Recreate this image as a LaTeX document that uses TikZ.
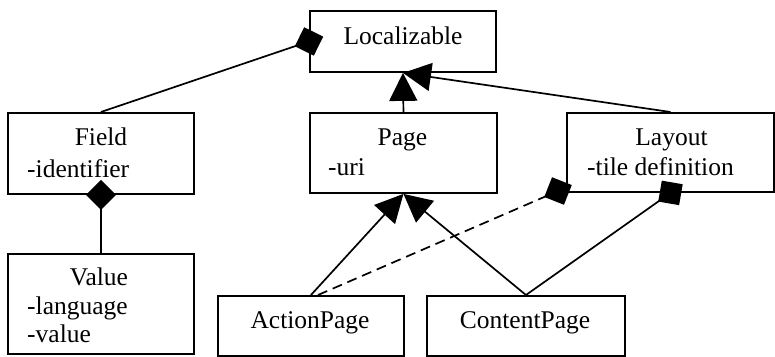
\documentclass[tikz,border=0pt]{standalone}
\usepackage{fontspec}
\setmainfont{Liberation Serif}
\usetikzlibrary{arrows.meta}
\begin{document}
\begin{tikzpicture}[x=1pt,y=-1pt,
  box/.style={draw, line width=1.9pt, inner sep=0pt, anchor=north west},
  txt/.style={inner sep=0pt, font=\fontsize{25.5}{30}\selectfont},
  conn/.style={line width=1.7pt},
  gen/.style={conn, -{Triangle[length=28pt,width=28pt]}},
  dia/.style={conn, -{Diamond[length=30pt,width=30pt]}, shorten >=-15pt},
  dep/.style={dia, dash pattern=on 10pt off 6pt}]
\useasboundingbox (0,0) rectangle (775,356);
% boxes
\node[box, minimum width=186pt, minimum height=61pt] (loc) at (309,10) {};
\node[box, minimum width=186pt, minimum height=81pt] (field) at (7,112) {};
\node[box, minimum width=186pt, minimum height=100pt] (value) at (7,253) {};
\node[box, minimum width=187pt, minimum height=80pt] (page) at (309,112) {};
\node[box, minimum width=207pt, minimum height=79pt] (layout) at (566,112) {};
\node[box, minimum width=186pt, minimum height=60pt] (action) at (217,295) {};
\node[box, minimum width=198pt, minimum height=60pt] (content) at (426,295) {};
% texts
\node[txt, anchor=base] (locT) at (403,44) {Localizable};
\node[txt, anchor=base] (fieldT) at (101,145) {Field};
\node[txt, anchor=base west] (fieldA) at (27,177) {-identifier};
\node[txt, anchor=base] (valueT) at (99,285) {Value};
\node[txt, anchor=base west] (valueA) at (27,314) {-language};
\node[txt, anchor=base west] (valueB) at (27,342) {-value};
\node[txt, anchor=base] (pageT) at (402.5,145) {Page};
\node[txt, anchor=base west] (pageA) at (328,175) {-uri};
\node[txt, anchor=base] (layoutT) at (671.5,145) {Layout};
\node[txt, anchor=base west] (layoutA) at (587,175) {-tile definition};
\node[txt, anchor=base] (actionT) at (310,328) {ActionPage};
\node[txt, anchor=base] (contentT) at (525,328) {ContentPage};
% connector end points
\coordinate (adash) at (318,295);
\coordinate (ldash) at (558,191);
% connectors
\draw[dia] (field.north) -- (loc.west);
\draw[dia] (value.north) -- (field.south);
\draw[gen] (page.north) -- (loc.south);
\draw[gen] (layout.north) -- (loc.south);
\draw[gen] (action.north) -- (page.south);
\draw[gen] (content.north) -- (page.south);
\draw[dep] (adash) -- (ldash);
\draw[dia] (content.north) -- (layout.south);
\end{tikzpicture}
\end{document}
